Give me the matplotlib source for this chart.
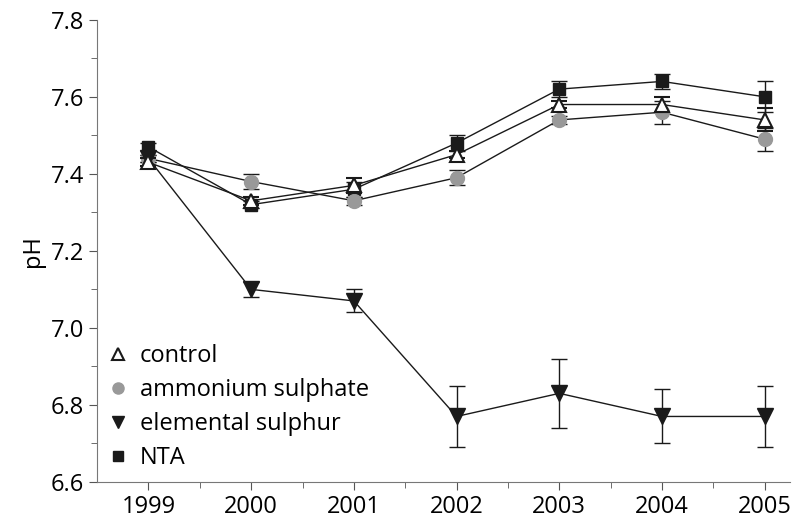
import matplotlib.pyplot as plt
import numpy as np

plt.rcParams['font.family'] = ['Open Sans', 'DejaVu Sans']

years = [1999, 2000, 2001, 2002, 2003, 2004, 2005]

control = [7.43, 7.33, 7.37, 7.45, 7.58, 7.58, 7.54]
control_err = [0.01, 0.01, 0.02, 0.01, 0.01, 0.02, 0.03]

ammonium = [7.44, 7.38, 7.33, 7.39, 7.54, 7.56, 7.49]
ammonium_err = [0.01, 0.02, 0.01, 0.02, 0.01, 0.03, 0.03]

elemental = [7.44, 7.10, 7.07, 6.77, 6.83, 6.77, 6.77]
elemental_err = [0.01, 0.02, 0.03, 0.08, 0.09, 0.07, 0.08]

nta = [7.47, 7.32, 7.36, 7.48, 7.62, 7.64, 7.60]
nta_err = [0.01, 0.01, 0.02, 0.02, 0.02, 0.02, 0.04]

fig, ax = plt.subplots(figsize=(8.09, 5.21), dpi=100)
fig.subplots_adjust(left=0.12, right=0.977, top=0.962, bottom=0.075)

common = dict(color='#1a1a1a', lw=1.0, capsize=6, elinewidth=1.0, capthick=1.0)
ax.errorbar(years, nta, yerr=nta_err, fmt='-s', ms=8.5, mfc='#1a1a1a', mec='#1a1a1a',
            label='NTA', zorder=3, **common)
ax.errorbar(years, ammonium, yerr=ammonium_err, fmt='-o', ms=10, mfc='#999999', mec='#999999',
            label='ammonium sulphate', zorder=3, **common)
ax.errorbar(years, control, yerr=control_err, fmt='-^', ms=10, mfc='white', mec='#1a1a1a', mew=1.5,
            label='control', zorder=4, **common)
ax.errorbar(years, elemental, yerr=elemental_err, fmt='-v', ms=11, mfc='#1a1a1a', mec='#1a1a1a',
            label='elemental sulphur', zorder=3, **common)

ax.set_xlim(1998.5, 2005.25)
ax.set_ylim(6.6, 7.8)
ax.set_xticks(years)
ax.set_xticks(np.arange(1999.5, 2005.5, 1), minor=True)
ax.set_yticks([6.6, 6.8, 7.0, 7.2, 7.4, 7.6, 7.8])
ax.set_yticklabels(['6.6', '6.8', '7.0', '7.2', '7.4', '7.6', '7.8'])
ax.set_yticks(np.arange(6.7, 7.8, 0.2), minor=True)
ax.tick_params(which='both', direction='out', color='#555555', labelsize=17)
ax.tick_params(which='major', length=6)
ax.tick_params(which='minor', length=4)
for s in ['top', 'right']:
    ax.spines[s].set_visible(False)
for s in ['left', 'bottom']:
    ax.spines[s].set_color('#777777')
ax.set_ylabel('pH', fontsize=17)

handles, labels = ax.get_legend_handles_labels()
order = [2, 1, 3, 0]
leg = ax.legend([handles[i][0] for i in order], [labels[i] for i in order],
                loc='lower left', frameon=False, fontsize=17, handlelength=0.8,
                handletextpad=0.5, labelspacing=0.42, borderaxespad=0.1,
                markerscale=0.8)
for h in leg.legend_handles:
    h.set_linestyle('none')

plt.savefig('out.png', dpi=100)
